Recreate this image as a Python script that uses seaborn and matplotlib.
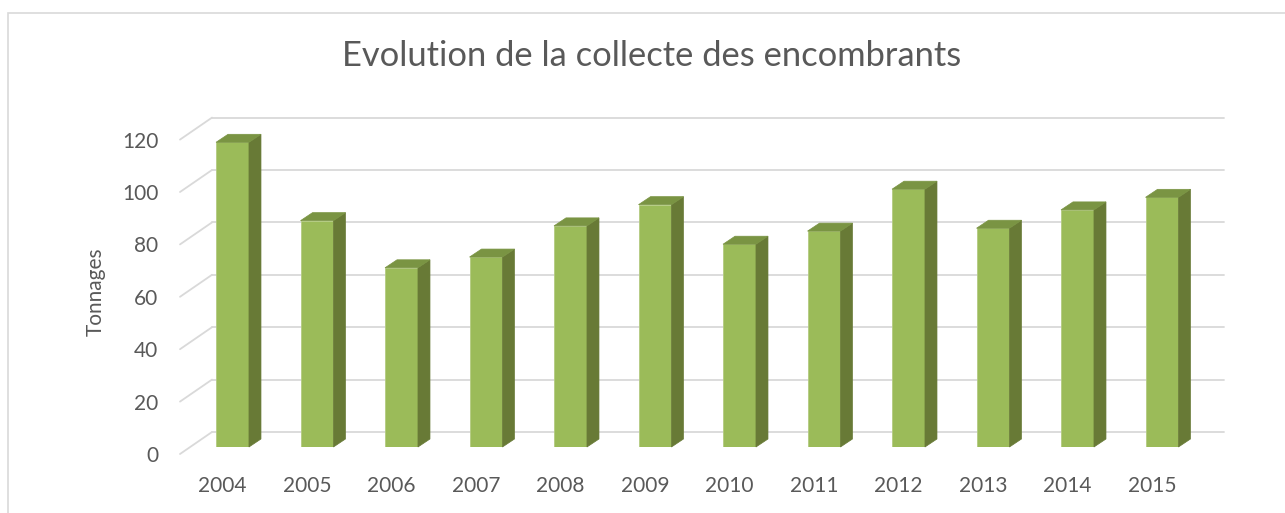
import matplotlib
matplotlib.use("Agg")
import matplotlib.pyplot as plt
import matplotlib.transforms as mtransforms
from matplotlib.patches import Polygon, Rectangle
import seaborn as sns
import pandas as pd

sns.set_style("white")
plt.rcParams["font.family"] = ["Lato", "DejaVu Sans"]

# ── data ────────────────────────────────────────────────────────────────
years = ["2004", "2005", "2006", "2007", "2008", "2009",
         "2010", "2011", "2012", "2013", "2014", "2015"]
tonnages = [116.3, 86.4, 68.4, 72.5, 84.4, 92.5, 77.4, 82.4, 98.4, 83.5, 90.5, 95.3]
y_ticks = [0, 20, 40, 60, 80, 100, 120]

TITLE = "Evolution de la collecte des encombrants"
YLABEL = "Tonnages"

FRONT = "#9BBB59"
SIDE = "#687A36"
TOP = "#7A9443"
GRID = "#D9D9D9"
TXT = "#595959"

W, H = 1285, 513
fig = plt.figure(figsize=(W / 100, H / 100), dpi=100)

# axes laid out in pixels: bar front faces, 0 at y=447, 2.62 px per unit
x0, step = 232.5, 84.5
left_px = x0 - 0.5 * step
ax = fig.add_axes([left_px / W, (H - 447) / H, 12 * step / W, 120 * 2.62 / H])

df = pd.DataFrame({"year": years, "t": tonnages})
sns.barplot(data=df, x="year", y="t", color=FRONT, width=0.39, saturation=1,
            edgecolor="#B3CB80", linewidth=0.6, ax=ax, zorder=3)
ax.set_xlim(-0.5, 11.5)
ax.set_ylim(0, 120)


def px_off(dx, dy):
    return ax.transData + mtransforms.ScaledTranslation(dx / 100, dy / 100, fig.dpi_scale_trans)


def to_x(px):
    return (px - x0) / step


# back wall grid (15px behind the bar plane) + side wall diagonals
back = px_off(0, 15)
front = px_off(0, -7)
for v in y_ticks:
    ax.plot([to_x(212), to_x(1224)], [v, v], color=GRID, lw=1.3,
            transform=back, clip_on=False, zorder=1)
    a = front.transform((to_x(180), v))
    b = back.transform((to_x(212), v))
    inv = ax.transData.inverted()
    a, b = inv.transform(a), inv.transform(b)
    ax.plot([a[0], b[0]], [a[1], b[1]], color=GRID, lw=1.3, clip_on=False, zorder=1)

# 3D faces of the bars (side + top), depth 12px right, 8px up
dx_d = 12 / step
dy_d = 8 / 2.62
for p in ax.patches[:len(years)]:
    xl, w, h = p.get_x(), p.get_width(), p.get_height()
    xr = xl + w
    side = Polygon([(xr, 0), (xr, h), (xr + dx_d, h + dy_d), (xr + dx_d, dy_d)],
                   closed=True, facecolor=SIDE, edgecolor=SIDE, lw=0.5, zorder=3)
    top = Polygon([(xl, h), (xr, h), (xr + dx_d, h + dy_d), (xl + dx_d, h + dy_d)],
                  closed=True, facecolor=TOP, edgecolor=TOP, lw=0.5, zorder=3)
    side.set_clip_on(False)
    top.set_clip_on(False)
    ax.add_patch(side)
    ax.add_patch(top)

# ticks and labels
ax.set_yticks(y_ticks)
ax.set_yticklabels([str(v) for v in y_ticks])
ax.tick_params(axis="y", length=0, pad=23, labelsize=15, labelcolor=TXT)
ax.tick_params(axis="x", length=0, pad=21, labelsize=15, labelcolor=TXT)
for lab in ax.get_yticklabels():
    lab.set_transform(lab.get_transform() + mtransforms.ScaledTranslation(0, -0.07, fig.dpi_scale_trans))
for lab in ax.get_xticklabels():
    lab.set_transform(lab.get_transform() + mtransforms.ScaledTranslation(-0.10, 0, fig.dpi_scale_trans))
ax.set_xlabel("")
ax.set_ylabel("")
sns.despine(ax=ax, left=True, bottom=True)
ax.patch.set_alpha(0)

fig.text(96 / W, 1 - 292 / H, YLABEL, rotation=90, ha="center", va="center",
         fontsize=15, color=TXT)
fig.text(652 / W, 1 - 56 / H, TITLE, ha="center", va="center", fontsize=24.8, color=TXT)

# chart border
fig.patches.append(Rectangle((8 / W, -0.1), 1.2, 1 - 13 / H + 0.1, transform=fig.transFigure,
                             fill=False, edgecolor="#D9D9D9", lw=1.2))

fig.savefig("out.png", dpi=100)
